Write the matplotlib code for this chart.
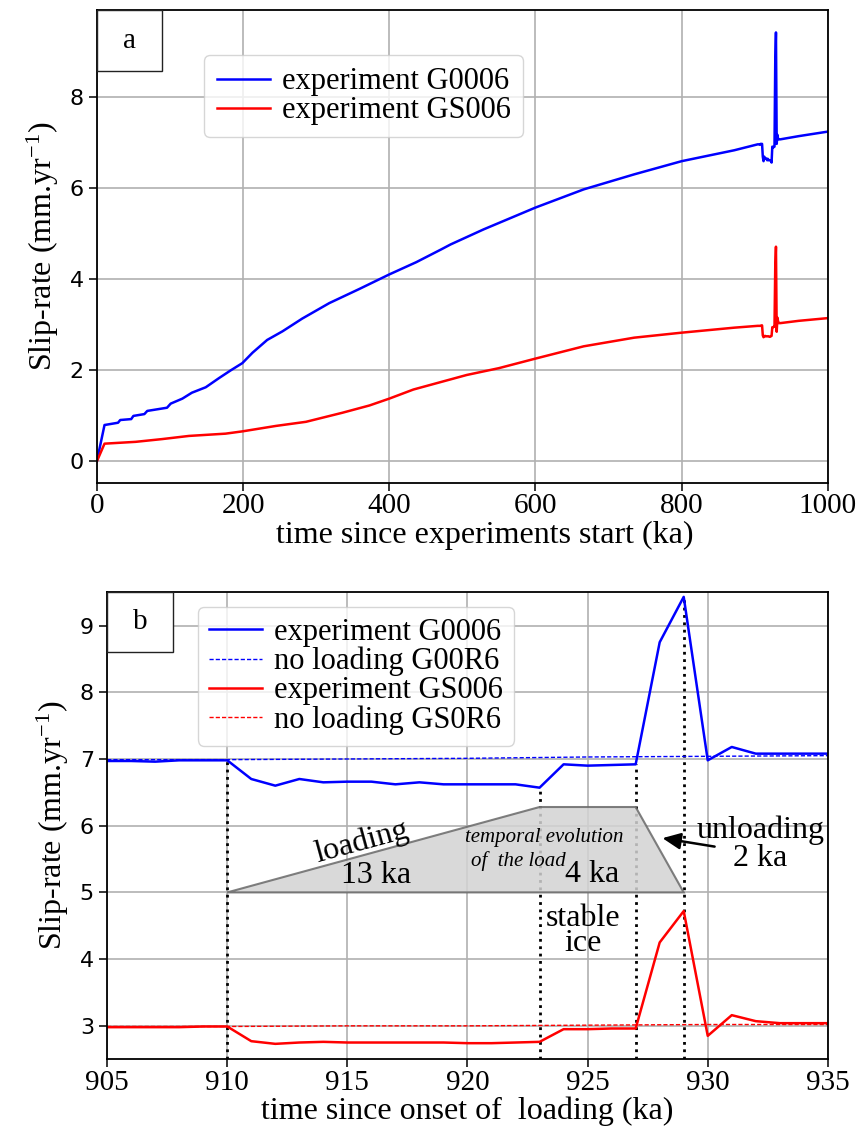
import numpy as np
import matplotlib
matplotlib.use("Agg")
import matplotlib.pyplot as plt
from matplotlib.patches import Polygon, Rectangle

plt.rcParams['font.family'] = ['Liberation Serif', 'DejaVu Serif']
plt.rcParams['mathtext.fontset'] = 'custom'
plt.rcParams['mathtext.rm'] = 'Liberation Serif'
plt.rcParams['mathtext.it'] = 'Liberation Serif:italic'

# ---------------- panel a : long-term evolution (0 - 905 ka) ----------------
t_long_G = [0, 10.5, 29, 32, 47, 50, 65, 69, 96, 101, 117, 130, 149, 158, 167, 183,
            199, 213, 233, 254, 281, 318, 359, 400, 437, 471, 484, 529, 600, 666,
            735, 800, 872, 904]
v_long_G = [0, 0.80, 0.85, 0.91, 0.93, 1.00, 1.04, 1.11, 1.18, 1.27, 1.38, 1.51, 1.63,
            1.73, 1.83, 2.00, 2.16, 2.39, 2.67, 2.86, 3.14, 3.48, 3.79, 4.11, 4.38,
            4.66, 4.77, 5.10, 5.58, 5.98, 6.31, 6.60, 6.84, 6.97]
t_long_S = [0, 10.5, 53, 89, 126, 176, 199, 245, 286, 336, 373, 400, 433, 506, 550,
            600, 666, 735, 800, 872, 904]
v_long_S = [0, 0.39, 0.43, 0.49, 0.56, 0.61, 0.66, 0.78, 0.87, 1.07, 1.23, 1.38, 1.58,
            1.90, 2.05, 2.26, 2.53, 2.72, 2.83, 2.94, 2.98]
t_late = [960, 1000]
v_late_G = [7.15, 7.25]
v_late_S = [3.09, 3.15]

# ---------------- panel b : zoom around the loading (905 - 935 ka) ----------------
t_b = [905, 906, 907, 908, 909, 910, 911, 912, 913, 914, 915, 916, 917, 918, 919, 920,
       921, 922, 923, 924, 925, 926, 927, 928, 929, 930, 931, 932, 933, 934, 935]
G0006 = [6.97, 6.97, 6.96, 6.98, 6.98, 6.98, 6.70, 6.60, 6.70, 6.65, 6.66, 6.66, 6.62,
         6.65, 6.62, 6.62, 6.62, 6.62, 6.57, 6.92, 6.90, 6.91, 6.92, 8.75, 9.43, 6.98,
         7.18, 7.08, 7.08, 7.08, 7.08]
GS006 = [2.98, 2.98, 2.98, 2.98, 2.99, 2.99, 2.77, 2.73, 2.75, 2.76, 2.75, 2.75, 2.75,
         2.75, 2.75, 2.74, 2.74, 2.75, 2.76, 2.95, 2.95, 2.96, 2.96, 4.25, 4.72, 2.85,
         3.16, 3.07, 3.04, 3.04, 3.04]
t_ref = [905, 910, 915, 920, 925, 930, 935]
G00R6 = [6.99, 6.99, 7.00, 7.01, 7.03, 7.04, 7.05]
GS0R6 = [2.99, 2.99, 3.00, 3.00, 3.01, 3.02, 3.02]

# load history (ka, level drawn on the slip-rate axis)
load_t = [910, 923, 927, 929]
load_v = [5.0, 6.28, 6.28, 5.0]
# vertical markers (drawn up to the G0006 curve)
mark_t = [910, 923, 927, 929]

LABEL_FS = 23
TICK_FS = 21
YTICK_FS = 16
LEG_FS = 22

fig = plt.figure(figsize=(8.57, 11.28), dpi=100)
ax1 = fig.add_axes([0.113, 0.572, 0.853, 0.419])
ax2 = fig.add_axes([0.125, 0.061, 0.841, 0.414])

# ---------- panel a ----------
tG = t_long_G + t_b + t_late
vG = v_long_G + G0006 + v_late_G
tS = t_long_S + t_b + t_late
vS = v_long_S + GS006 + v_late_S
ax1.plot(tG, vG, color='#0000ff', lw=1.8, label='experiment G0006')
ax1.plot(tS, vS, color='#ff0000', lw=1.8, label='experiment GS006')
ax1.set_xlim(0, 1000)
ax1.set_ylim(-0.47, 9.92)
ax1.set_xticks([0, 200, 400, 600, 800, 1000])
ax1.set_yticks([0, 2, 4, 6, 8])
ax1.grid(True, color='#b0b0b0', lw=1.2)
ax1.set_axisbelow(True)
ax1.set_xlabel('time since experiments start (ka)', fontsize=LABEL_FS)
ax1.xaxis.set_label_coords(0.53, -0.08)
ax1.set_ylabel('Slip-rate (mm.yr$^{-1}$)', fontsize=LABEL_FS, labelpad=6)
for lab in ax1.get_xticklabels():
    lab.set_fontsize(TICK_FS)
for lab in ax1.get_yticklabels():
    lab.set_fontsize(YTICK_FS)
    lab.set_family('DejaVu Sans')
ax1.tick_params(length=6, width=1.1)
ax1.tick_params(axis='x', pad=1)
leg1 = ax1.legend(loc='upper left', bbox_to_anchor=(0.147, 0.905), fontsize=LEG_FS,
                  labelspacing=0.0, handlelength=1.75, handletextpad=0.4,
                  borderpad=0.4, borderaxespad=0, framealpha=0.8)
ax1.add_patch(Rectangle((0, 1 - 0.129), 0.089, 0.129, transform=ax1.transAxes,
                        facecolor='white', edgecolor='#222222', lw=1.0, zorder=5))
ax1.text(0.0445, 1 - 0.0645, 'a', transform=ax1.transAxes, ha='center', va='center',
         fontsize=21, zorder=6)

# ---------- panel b ----------
ax2.plot(t_b, G0006, color='#0000ff', lw=1.8, label='experiment G0006')
ax2.plot(t_ref, G00R6, color='#0000ff', lw=1.0, ls='--', dashes=(3, 1.5),
         label='no loading G00R6')
ax2.plot(t_b, GS006, color='#ff0000', lw=1.8, label='experiment GS006')
ax2.plot(t_ref, GS0R6, color='#ff0000', lw=1.0, ls='--', dashes=(3, 1.5),
         label='no loading GS0R6')
ax2.set_xlim(905, 935)
ax2.set_ylim(2.5, 9.5)
ax2.set_xticks([905, 910, 915, 920, 925, 930, 935])
ax2.set_yticks([3, 4, 5, 6, 7, 8, 9])
ax2.grid(True, color='#b0b0b0', lw=1.2)
ax2.set_axisbelow(True)
ax2.set_xlabel('time since onset of  loading (ka)', fontsize=LABEL_FS, labelpad=0)
ax2.set_ylabel('Slip-rate (mm.yr$^{-1}$)', fontsize=LABEL_FS, labelpad=6)
for lab in ax2.get_xticklabels():
    lab.set_fontsize(TICK_FS)
for lab in ax2.get_yticklabels():
    lab.set_fontsize(YTICK_FS)
    lab.set_family('DejaVu Sans')
ax2.tick_params(length=6, width=1.1)
ax2.tick_params(axis='x', pad=2)

# load polygon
poly = Polygon(list(zip(load_t, load_v)), closed=True, facecolor='lightgray',
               edgecolor='dimgray', lw=1.5, alpha=0.85, zorder=2)
ax2.add_patch(poly)

# vertical dotted markers up to the G0006 curve
for tm in mark_t:
    top = G0006[t_b.index(tm)]
    ax2.plot([tm, tm], [2.5, top], color='black', ls=':', lw=2.0, zorder=1.5)

# rotated "loading" text parallel to the load ramp
p0 = ax2.transData.transform((load_t[0], load_v[0]))
p1 = ax2.transData.transform((load_t[1], load_v[1]))
ang = np.degrees(np.arctan2(p1[1] - p0[1], p1[0] - p0[0]))
ax2.text(915.6, 5.76, 'loading', rotation=ang, ha='center', va='center',
         fontsize=23, rotation_mode='anchor', zorder=4)
ax2.text(916.2, 5.25, '13 ka', ha='center', va='center', fontsize=23, zorder=4)
ax2.text(923.2, 5.82, 'temporal evolution', ha='center', va='center', fontsize=15,
         style='italic', zorder=4)
ax2.text(922.1, 5.47, 'of  the load', ha='center', va='center', fontsize=15,
         style='italic', zorder=4)
ax2.text(925.2, 5.27, '4 ka', ha='center', va='center', fontsize=23, zorder=4)
ax2.text(924.8, 4.42, 'stable\nice', ha='center', va='center', fontsize=23,
         linespacing=0.85, zorder=4)
ax2.text(932.2, 5.72, 'unloading\n2 ka', ha='center', va='center', fontsize=23,
         linespacing=0.95, zorder=4)
ax2.annotate('', xy=(928.0, 5.82), xytext=(930.4, 5.68),
             arrowprops=dict(arrowstyle='-|>,head_length=1.1,head_width=0.5',
                             color='black', lw=1.8), zorder=4)

h, l = ax2.get_legend_handles_labels()
leg2 = ax2.legend(h, l, loc='upper left', bbox_to_anchor=(0.126, 0.968), fontsize=LEG_FS,
                  labelspacing=0.0, handlelength=1.75, handletextpad=0.4,
                  borderpad=0.35, borderaxespad=0, framealpha=0.8)
ax2.add_patch(Rectangle((0, 1 - 0.128), 0.092, 0.128, transform=ax2.transAxes,
                        facecolor='white', edgecolor='#222222', lw=1.0, zorder=5))
ax2.text(0.046, 1 - 0.064, 'b', transform=ax2.transAxes, ha='center', va='center',
         fontsize=21, zorder=6)

for ax in (ax1, ax2):
    for sp in ax.spines.values():
        sp.set_linewidth(1.3)

fig.savefig('out.png', dpi=100)
